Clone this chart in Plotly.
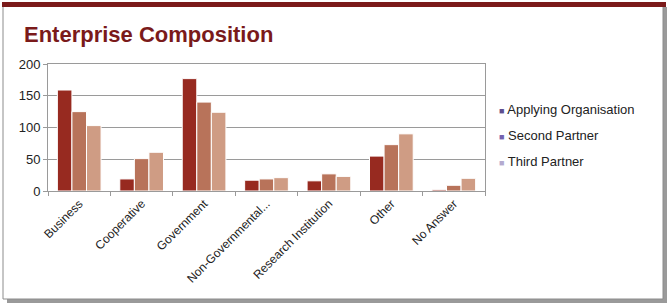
import plotly.graph_objects as go

categories = ["Business", "Cooperative", "Government", "Non-Governmental...",
              "Research Institution", "Other", "No Answer"]
applying = [159, 19, 177, 17, 16, 55, 2]
second = [125, 51, 140, 19, 27, 73, 9]
third = [103, 61, 124, 21, 23, 90, 20]
series_names = ["Applying Organisation", "Second Partner", "Third Partner"]
y_ticks = [0, 50, 100, 150, 200]

bar_colors = ["#972A20", "#B8735A", "#CF9C84"]
legend_colors = ["#5E4E8E", "#7562AE", "#B4AACF"]

W, H = 669, 305
L, R, T, B = 48, 184, 64, 114
pw, ph = W - L - R, H - T - B

def px(x):
    return (x - L) / pw

def py(y):
    return (H - B - y) / ph

fig = go.Figure()
for name, vals, col in zip(series_names, [applying, second, third], bar_colors):
    fig.add_trace(go.Bar(x=categories, y=vals, name=name, marker_color=col,
                         marker_line_color="white", marker_line_width=1,
                         showlegend=False))

shapes = [
    dict(type="rect", xref="paper", yref="paper", x0=px(7), x1=px(667), y0=py(7), y1=py(303),
         fillcolor="#9a9a9a", line_width=0, layer="below"),
    dict(type="rect", xref="paper", yref="paper", x0=px(3), x1=px(663), y0=py(4), y1=py(299),
         fillcolor="white", line=dict(color="#8c8c8c", width=1), layer="below"),
    dict(type="rect", xref="paper", yref="paper", x0=px(2), x1=px(666), y0=py(2), y1=py(7),
         fillcolor="#7B1A1A", line_width=0, layer="below"),
]

annotations = [dict(text="<b>Enterprise Composition</b>", xref="paper", yref="paper",
                    x=px(22), y=py(34), xanchor="left", yanchor="middle",
                    showarrow=False, font=dict(size=22, color="#7A1A1A"))]
legend_y = [109, 135, 161]
for name, col, ly in zip(series_names, legend_colors, legend_y):
    annotations.append(dict(
        text=f"<span style='color:{col};font-size:9px'>■</span> {name}",
        xref="paper", yref="paper", x=px(497), y=py(ly), xanchor="left", yanchor="middle",
        showarrow=False, font=dict(size=13, color="#222222")))

fig.update_layout(
    width=W, height=H,
    margin=dict(l=L, r=R, t=T, b=B, autoexpand=False),
    paper_bgcolor="white",
    plot_bgcolor="#ECEAF3",
    barmode="group", bargap=0.3, bargroupgap=0.0,
    showlegend=False,
    font=dict(family="Liberation Sans, Arial, sans-serif", color="#222222", size=12),
    shapes=shapes,
    annotations=annotations,
    xaxis=dict(tickangle=-45, ticks="outside", tickson="boundaries", ticklen=4,
               tickcolor="#9a9a9a", showline=True, linecolor="#9a9a9a", mirror=True,
               tickfont=dict(size=12, color="#222222"), showgrid=False, fixedrange=True),
    yaxis=dict(range=[0, 200], tickvals=y_ticks, ticks="outside", ticklen=4,
               tickcolor="#9a9a9a", showline=True, linecolor="#9a9a9a", mirror=True,
               gridcolor="#9a9a9a", gridwidth=1, zeroline=False,
               tickfont=dict(size=13, color="#222222")),
)

fig.write_html("out.html", config={"displayModeBar": False},
               post_script="document.body.style.margin='0';document.body.style.overflow='hidden';")
